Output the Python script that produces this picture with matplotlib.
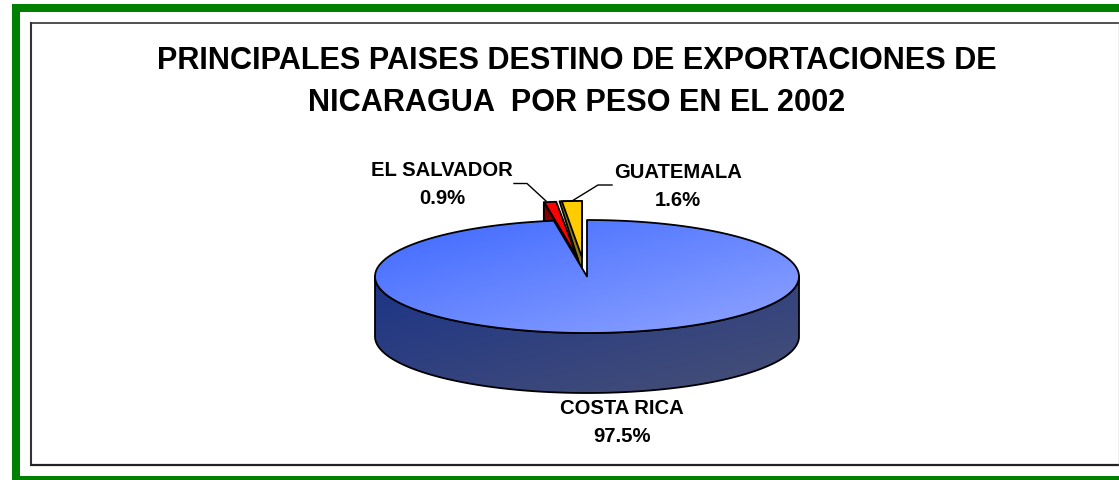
import numpy as np
import matplotlib
matplotlib.use("Agg")
import matplotlib.pyplot as plt
from matplotlib.patches import Polygon, Rectangle

# Export share by destination, percent of weight
categories = ["COSTA RICA", "EL SALVADOR", "GUATEMALA"]
shares = [97.5, 0.9, 1.6]
title_lines = ["PRINCIPALES PAISES DESTINO DE EXPORTACIONES DE",
               "NICARAGUA  POR PESO EN EL 2002"]

plt.rcParams["font.family"] = ["Liberation Sans", "DejaVu Sans"]

W, H = 1119, 480
fig = plt.figure(figsize=(W / 100, H / 100), dpi=100, facecolor="white")
ax = fig.add_axes([0, 0, 1, 1])
ax.set_xlim(0, W)
ax.set_ylim(H, 0)
ax.axis("off")

# Page border and chart frame
GREEN = "#008000"
ax.add_patch(Rectangle((12, 4), W - 12, 8, fc=GREEN, ec="none"))
ax.add_patch(Rectangle((12, 4), 8, H - 4, fc=GREEN, ec="none"))
ax.add_patch(Rectangle((12, 476), W - 12, 4, fc=GREEN, ec="none"))
ax.plot([30.5, 30.5], [22, 465], color="#333333", lw=1.5, solid_capstyle="butt")
ax.plot([30, W], [22.5, 22.5], color="#333333", lw=1.2, solid_capstyle="butt")
ax.plot([30, W], [464.5, 464.5], color="#222222", lw=1.6, solid_capstyle="butt")
ax.plot([W - 0.5, W - 0.5], [22, 465], color="#b0b0b0", lw=1)

# Pie projection
CX, CY, RX, RY, DEPTH = 587.0, 276.5, 212.0, 56.5, 60.0
EDGE = dict(ec="black", lw=1.3, joinstyle="round")


def rim(deg, cx=CX, cy=CY):
    a = np.radians(deg)
    return cx + RX * np.sin(a), cy - RY * np.cos(a)


def wedge(start, stop, cx=CX, cy=CY):
    t = np.linspace(start, stop, 240)
    x, y = rim(t, cx, cy)
    return np.column_stack([np.r_[cx, x], np.r_[cy, y]])


def gradient_fill(poly, c0, c1, extent, zorder):
    ramp = np.linspace(0, 1, 200)
    u, v = np.meshgrid(ramp, ramp)
    mix = ((u + v) / 2)[..., None]
    img = np.array(c0) / 255 * (1 - mix) + np.array(c1) / 255 * mix
    im = ax.imshow(img, extent=extent, origin="upper", aspect="auto",
                   interpolation="bilinear", zorder=zorder)
    patch = Polygon(poly, closed=True, fc="none", ec="none",
                    transform=ax.transData)
    ax.add_patch(patch)
    im.set_clip_path(patch)
    ax.add_patch(Polygon(poly, closed=True, fc="none", zorder=zorder + 0.1, **EDGE))


# Slice angles, clockwise from twelve o'clock
total = sum(shares)
costa_end = 360 * shares[0] / total
salvador_end = costa_end + 360 * shares[1] / total
guate_end = salvador_end + 360 * shares[2] / total

# Guatemala, pulled out of the pie, with its thin cut face on the left
gx, gy = 582.0, 257.5
left_x, left_y = rim(salvador_end, gx, gy)
right_x, right_y = rim(guate_end, gx, gy)
ax.add_patch(Polygon([(left_x - 1.2, left_y), (right_x, right_y), (gx, gy + 14.5)],
                     closed=True, fc="#8f7a12", zorder=2, **EDGE))
ax.add_patch(Polygon(wedge(salvador_end + 0.3, guate_end, gx, gy),
                     closed=True, fc="#ffcc00", zorder=2.1, **EDGE))

# El Salvador, pulled out of the pie, with its cut face showing
sx, sy = 577.5, 258.0
x0, y0 = rim(costa_end, sx, sy)
ax.add_patch(Polygon([(sx, sy), (x0 - 0.5, y0), (x0 - 0.5, y0 + DEPTH), (sx, sy + DEPTH)],
                     closed=True, fc="#800000", zorder=3, **EDGE))
ax.add_patch(Polygon(wedge(costa_end, salvador_end, sx, sy),
                     closed=True, fc="#ff0000", zorder=3.1, **EDGE))

# Costa Rica: outer wall, then the top face over everything behind it
t = np.linspace(90, 270, 240)
wx, wy = rim(t)
wall = np.column_stack([np.r_[wx, wx[::-1]], np.r_[wy, wy[::-1] + DEPTH]])
gradient_fill(wall, (28, 52, 135), (72, 80, 118),
              (CX - RX, CX + RX, CY + RY + DEPTH, CY), 4)
gradient_fill(wedge(0, costa_end), (62, 104, 255), (145, 165, 255),
              (CX - RX, CX + RX, CY + RY, CY - RY), 5)

# Leader lines
ax.plot([514, 527, 546], [183.5, 183.5, 201], color="black", lw=1.0, zorder=6)
ax.plot([612, 598, 572], [185, 185, 201], color="black", lw=1.0, zorder=6)

# Title and slice labels
for line, y in zip(title_lines, (61, 103)):
    ax.text(577, y, line, ha="center", va="center", fontsize=22.1,
            fontweight="bold", color="black")

label_pos = {"COSTA RICA": (622, 409, 437), "EL SALVADOR": (442, 170, 199),
             "GUATEMALA": (678, 173, 201)}
for name, share in zip(categories, shares):
    x, y1, y2 = label_pos[name]
    ax.text(x, y1, name, ha="center", va="center", fontsize=14.6,
            fontweight="bold", color="black", zorder=7)
    ax.text(x, y2, f"{share:.1f}%", ha="center", va="center", fontsize=14.6,
            fontweight="bold", color="black", zorder=7)

fig.savefig("out.png", dpi=100, facecolor="white")
